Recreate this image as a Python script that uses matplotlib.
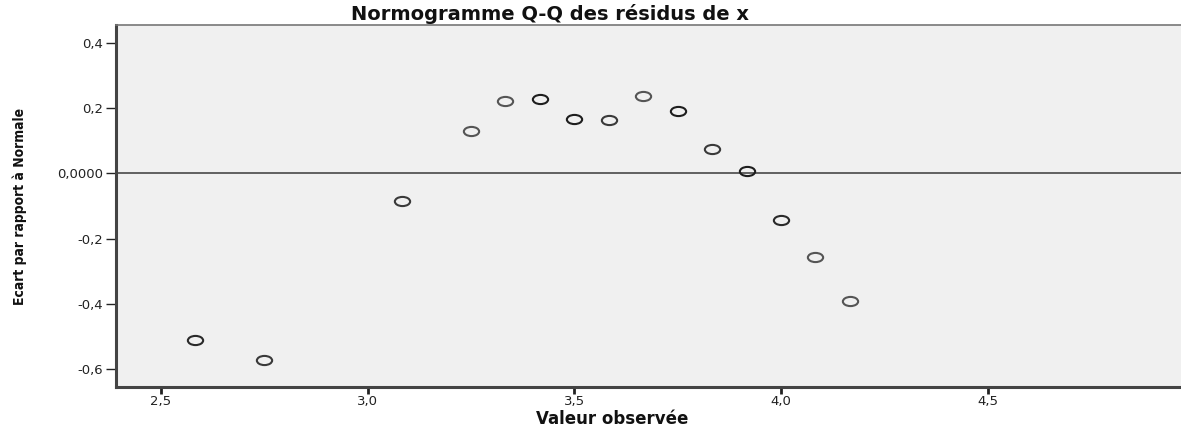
import matplotlib
matplotlib.use("Agg")
import matplotlib.pyplot as plt
from matplotlib.path import Path
import numpy as np

# Data
observed = [2.5833, 2.75, 3.0833, 3.25, 3.3333, 3.4167, 3.5, 3.5833,
            3.6667, 3.75, 3.8333, 3.9167, 4.0, 4.0833, 4.1667]
deviation = [-0.511, -0.573, -0.085, 0.131, 0.221, 0.227, 0.168, 0.164,
             0.237, 0.190, 0.076, 0.007, -0.143, -0.256, -0.392]
edge_colors = ['#2a2a2a', '#3a3a3a', '#3a3a3a', '#555555', '#555555', '#1e1e1e',
               '#1e1e1e', '#3a3a3a', '#555555', '#1e1e1e', '#3a3a3a', '#1e1e1e',
               '#2a2a2a', '#555555', '#555555']
xticks = [2.5, 3.0, 3.5, 4.0, 4.5]
xtick_labels = ['2,5', '3,0', '3,5', '4,0', '4,5']
yticks = [-0.6, -0.4, -0.2, 0.0, 0.2, 0.4]
ytick_labels = ['-0,6', '-0,4', '-0,2', '0,0000', '0,2', '0,4']

W, H = 1181, 432
fig = plt.figure(figsize=(W / 100, H / 100), dpi=100)
fig.patch.set_facecolor('white')
ax = fig.add_axes([116 / W, (H - 387) / H, 1 - 116 / W, (387 - 25) / H])
ax.set_facecolor('#f0f0f0')

circ = Path.unit_circle()
ell = Path(circ.vertices * np.array([1.0, 0.6]), circ.codes)

ax.axhline(0, color='#555555', lw=1.3, zorder=1)
for xv, yv, ec in zip(observed, deviation, edge_colors):
    ax.plot([xv], [yv], linestyle='none', marker=ell, markersize=11,
            markerfacecolor='none', markeredgecolor=ec, markeredgewidth=1.5,
            zorder=3)

ax.set_xlim(2.391, 4.968)
ax.set_ylim(-0.655, 0.455)

ax.set_xticks(xticks)
ax.set_xticklabels(xtick_labels)
ax.set_yticks(yticks)
ax.set_yticklabels(ytick_labels)
ax.tick_params(axis='both', labelsize=9.5, colors='#222222', direction='out')
ax.tick_params(axis='y', length=7, width=1.0, pad=2)
ax.tick_params(axis='x', length=5, width=2.0, pad=1)

for s in ['left', 'bottom']:
    ax.spines[s].set_color('#444444')
    ax.spines[s].set_linewidth(2.2)
ax.spines['top'].set_color('#777777')
ax.spines['top'].set_linewidth(1.2)
ax.spines['right'].set_visible(False)

fig.text(550 / W, 1 - 14 / H, 'Normogramme Q-Q des résidus de x',
         ha='center', va='center', fontsize=14, fontweight='bold',
         family='DejaVu Sans', color='#111111')
fig.text(612 / W, 1 - 419 / H, 'Valeur observée', ha='center', va='center',
         fontsize=12, fontweight='bold', family='DejaVu Sans', color='#111111')
fig.text(20 / W, 1 - 206 / H, 'Ecart par rapport à Normale', ha='center',
         va='center', rotation=90, fontsize=10, fontweight='bold',
         fontstretch='condensed',
         family=['DejaVu Sans'], color='#111111')

fig.savefig('out.png', dpi=100)
